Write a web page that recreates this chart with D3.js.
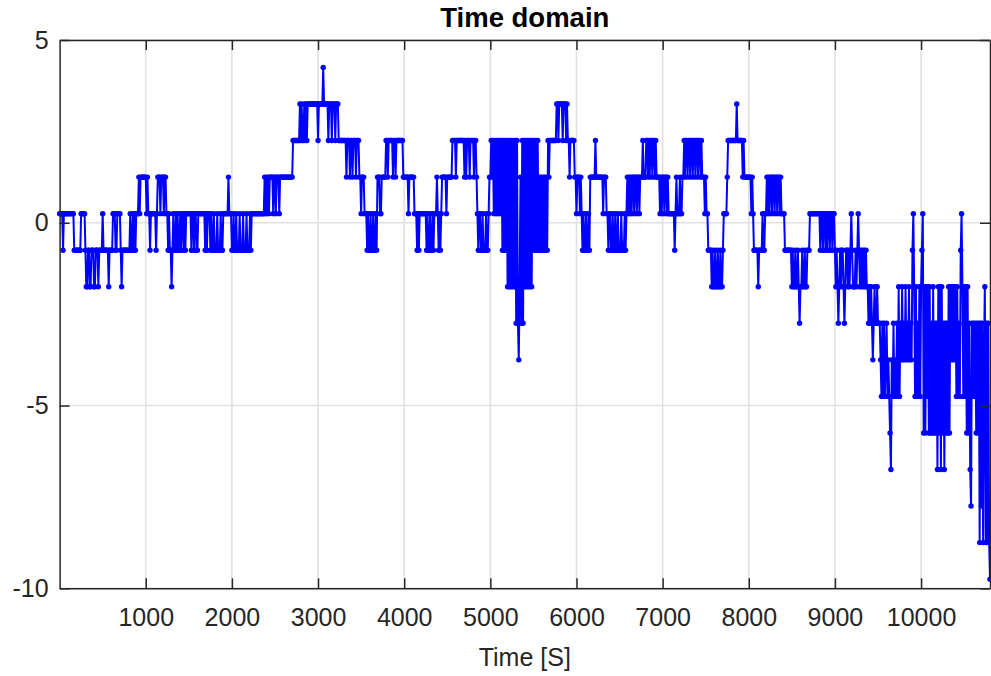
<!DOCTYPE html>
<html>
<head>
<meta charset="utf-8">
<script src="https://cdn.jsdelivr.net/npm/d3@7"></script>
<style>
  html, body { margin: 0; padding: 0; background: #fff; }
  svg { display: block; }
</style>
</head>
<body>
<svg id="chart" width="991" height="676"></svg>
<script>
// Quantised signal, recorded as level changes: [time in s, level from that time on]
const stepsFirstHour = [
  [0,0.25],[40,-0.75],[50,0.25],[170,-0.75],[250,0.25],[300,-0.75],[310,-1.75],[330,-0.75],[350,-1.75],[370,-0.75],
  [400,-1.75],[420,-0.75],[450,-1.75],[460,-0.75],[500,0.25],[510,-0.75],[570,-1.75],[580,-0.75],[620,0.25],[650,-0.75],
  [670,0.25],[710,-0.75],[720,-1.75],[730,-0.75],[820,0.25],[830,-0.75],[850,0.25],[860,-0.75],[870,0.25],[880,-0.75],
  [890,0.25],[920,1.25],[930,0.25],[940,1.25],[1010,0.25],[1020,1.25],[1030,0.25],[1050,-0.75],[1060,0.25],[1120,-0.75],
  [1130,0.25],[1140,1.25],[1170,0.25],[1180,1.25],[1210,0.25],[1220,1.25],[1240,0.25],[1260,-0.75],[1270,0.25],[1280,-0.75],
  [1300,-1.75],[1310,-0.75],[1320,0.25],[1330,-0.75],[1350,0.25],[1360,-0.75],[1370,0.25],[1380,-0.75],[1400,0.25],[1410,-0.75],
  [1420,0.25],[1440,-0.75],[1450,0.25],[1460,-0.75],[1470,0.25],[1530,-0.75],[1540,0.25],[1560,-0.75],[1570,0.25],[1590,-0.75],
  [1610,0.25],[1690,-0.75],[1700,0.25],[1710,-0.75],[1720,0.25],[1750,-0.75],[1760,0.25],[1770,-0.75],[1790,0.25],[1800,-0.75],
  [1830,0.25],[1840,-0.75],[1870,0.25],[1880,-0.75],[1900,0.25],[1960,1.25],[1970,0.25],[2000,-0.75],[2020,0.25],[2030,-0.75],
  [2050,0.25],[2060,-0.75],[2090,0.25],[2100,-0.75],[2130,0.25],[2140,-0.75],[2170,0.25],[2180,-0.75],[2210,0.25],[2220,-0.75],
  [2230,0.25],[2380,1.25],[2390,0.25],[2400,1.25],[2410,0.25],[2420,1.25],[2430,0.25],[2440,1.25],[2480,0.25],[2490,1.25],
  [2510,0.25],[2520,1.25],[2550,0.25],[2560,1.25],[2710,2.25],[2790,3.25],[2800,2.25],[2810,3.25],[2820,2.25],[2840,3.25],
  [2850,2.25],[2860,3.25],[2870,2.25],[2880,3.25],[3000,2.25],[3010,3.25],[3060,4.25],[3070,3.25],[3120,2.25],[3130,3.25],
  [3160,2.25],[3170,3.25],[3200,2.25],[3210,3.25],[3240,2.25],[3330,1.25],[3340,2.25],[3370,1.25],[3380,2.25],[3400,1.25],
  [3410,2.25],[3440,1.25],[3450,2.25],[3480,1.25],[3500,0.25],[3510,1.25],[3540,0.25],[3570,-0.75],[3580,0.25],[3590,-0.75]
];
const stepsSecondHour = [
  [3610,0.25],[3620,-0.75],[3640,0.25],[3650,-0.75],[3670,0.25],[3680,-0.75],[3690,1.25],[3720,0.25],[3740,1.25],[3790,2.25],
  [3810,1.25],[3820,2.25],[3870,1.25],[3880,2.25],[3900,1.25],[3910,2.25],[3990,1.25],[4050,0.25],[4060,1.25],[4120,0.25],
  [4150,-0.75],[4160,0.25],[4170,-0.75],[4180,0.25],[4260,-0.75],[4270,0.25],[4280,-0.75],[4300,0.25],[4310,-0.75],[4330,0.25],
  [4340,-0.75],[4350,0.25],[4380,1.25],[4390,0.25],[4400,-0.75],[4410,0.25],[4420,-0.75],[4430,0.25],[4440,1.25],[4490,0.25],
  [4500,1.25],[4560,2.25],[4600,1.25],[4610,2.25],[4700,1.25],[4710,2.25],[4720,1.25],[4730,2.25],[4760,1.25],[4770,2.25],
  [4810,1.25],[4820,2.25],[4840,1.25],[4850,0.25],[4860,-0.75],[4870,0.25],[4890,-0.75],[4910,0.25],[4920,-0.75],[4950,0.25],
  [4960,-0.75],[4980,0.25],[4990,1.25],[5010,2.25],[5020,1.25],
  [5030,2.25],[5040,0.25],[5050,2.25],[5060,0.25],[5070,2.25],[5080,0.25],[5090,2.25],[5100,0.25],[5110,2.25],[5120,0.25],
  [5130,2.25],[5140,-0.75],[5150,2.25],[5160,-0.75],[5170,2.25],[5180,-0.75],[5190,2.25],[5200,-1.75],[5210,2.25],[5220,-1.75],
  [5230,2.25],[5240,-1.75],[5250,2.25],[5260,-1.75],[5270,2.25],[5280,-1.75],[5290,2.25],[5300,-2.75],[5310,2.25],[5320,-2.75],
  [5330,-3.75],[5340,-1.75],[5350,1.25],[5360,-2.75],[5370,2.25],[5380,-2.75],[5390,2.25],[5400,-1.75],[5410,2.25],[5420,-1.75],
  [5430,2.25],[5440,-1.75],[5450,2.25],[5460,-1.75],[5470,2.25],[5480,-1.75],[5490,2.25],[5500,-0.75],[5510,2.25],[5520,-0.75],
  [5530,2.25],[5540,-0.75],[5550,2.25],[5560,-0.75],[5570,1.25],[5580,-0.75],[5590,1.25],[5600,-0.75],[5610,1.25],[5620,-0.75],
  [5630,1.25],[5640,-0.75],[5650,1.25],[5660,-0.75],[5670,2.25],
  [5680,1.25],[5690,2.25],[5770,3.25],[5790,2.25],[5800,3.25],[5840,2.25],[5850,3.25],[5880,2.25],[5890,3.25],[5900,2.25],
  [5920,1.25],[5930,2.25],[5980,1.25],[6000,0.25],[6010,1.25],[6040,0.25],[6050,1.25],[6060,0.25],[6070,-0.75],[6080,0.25],
  [6090,-0.75],[6110,0.25],[6120,-0.75],[6140,0.25],[6150,-0.75],[6160,1.25],[6220,2.25],[6230,1.25],[6310,0.25],[6320,1.25],
  [6350,0.25],[6370,-0.75],[6380,0.25],[6400,-0.75],[6420,0.25],[6430,-0.75],[6450,0.25],[6460,-0.75],[6480,0.25],[6490,-0.75],
  [6520,0.25],[6530,-0.75],[6560,0.25],[6570,-0.75],[6580,0.25],[6590,1.25],[6600,0.25],[6610,1.25],[6620,0.25],[6630,1.25],
  [6640,0.25],[6650,1.25],[6670,0.25],[6680,1.25],[6700,0.25],[6710,1.25],[6730,0.25],[6740,1.25],[6770,2.25],[6780,1.25],
  [6810,2.25],[6830,1.25],[6840,2.25],[6850,1.25],[6860,2.25],[6880,1.25],[6890,2.25],[6910,1.25],[6920,2.25],[6930,1.25],
  [6970,0.25],[6980,1.25],[6990,0.25],[7000,1.25],[7020,0.25],[7030,1.25],[7050,0.25],[7060,1.25],[7070,0.25],[7140,-0.75],
  [7150,0.25],[7160,1.25],[7170,0.25]
];
const stepsThirdHour = [
  [7200,1.25],[7210,0.25],[7230,1.25],[7250,2.25],[7260,1.25],[7270,2.25],[7290,1.25],[7300,2.25],[7320,1.25],[7330,2.25],
  [7350,1.25],[7360,2.25],[7380,1.25],[7390,2.25],[7410,1.25],[7420,2.25],[7440,1.25],[7450,2.25],[7460,1.25],[7490,0.25],
  [7500,1.25],[7510,0.25],[7530,-0.75],[7570,-1.75],[7580,-0.75],[7590,-1.75],[7610,-0.75],[7620,-1.75],[7640,-0.75],[7650,-1.75],
  [7670,-0.75],[7680,-1.75],[7700,-0.75],[7710,0.25],[7750,1.25],[7760,2.25],[7860,3.25],[7870,2.25],[7930,1.25],[7940,2.25],
  [7950,1.25],[8030,0.25],[8040,1.25],[8050,0.25],[8060,-0.75],[8110,-1.75],[8120,-0.75],[8160,0.25],[8170,-0.75],[8190,0.25],
  [8210,1.25],[8220,0.25],[8230,1.25],[8240,0.25],[8250,1.25],[8270,0.25],[8280,1.25],[8300,0.25],[8310,1.25],[8330,0.25],
  [8340,1.25],[8360,0.25],[8370,1.25],[8380,0.25],[8420,-0.75],[8500,-1.75],[8510,-0.75],[8520,-1.75],[8540,-0.75],[8550,-1.75],
  [8570,-0.75],[8580,-1.75],[8590,-2.75],[8600,-1.75],[8620,-0.75],[8630,-1.75],[8650,-0.75],[8660,-1.75],[8680,-0.75],[8710,0.25],
  [8830,-0.75],[8840,0.25],[8860,-0.75],[8870,0.25],[8890,-0.75],[8900,0.25],[8910,-0.75],[8920,0.25],[8940,-0.75],[8950,0.25],
  [8970,-0.75],[8980,0.25],[9000,-0.75],[9010,-1.75],[9020,-0.75],[9030,-1.75],[9040,-2.75],[9050,-1.75],[9060,-0.75],[9070,-1.75],
  [9080,-0.75],[9100,-1.75],[9110,-2.75],[9120,-1.75],[9130,-0.75],[9150,-1.75],[9160,-0.75],[9170,-1.75],[9180,-0.75],[9190,0.25],
  [9200,-0.75],[9210,-1.75],[9240,-0.75],[9250,-1.75],[9260,-0.75],[9270,0.25],[9280,-0.75],[9290,-1.75],[9300,-0.75],[9310,-1.75],
  [9320,-0.75],[9330,-1.75],[9340,-0.75],[9350,-1.75],[9360,-0.75],[9370,-1.75],[9390,-2.75],[9400,-1.75],[9410,-2.75],[9420,-1.75],
  [9430,-2.75],[9440,-3.75],[9450,-2.75],[9460,-1.75],[9470,-2.75],[9490,-1.75],[9500,-2.75],[9530,-3.75],[9540,-4.75],[9550,-2.75],
  [9560,-4.75],[9570,-2.75],[9580,-4.75],[9590,-3.75],[9600,-2.75],[9610,-4.75],[9620,-3.75],[9630,-4.75],[9640,-5.75],[9650,-6.75],
  [9660,-3.75],[9670,-4.75],[9680,-2.75],[9690,-4.75],[9700,-3.75],[9710,-4.75],[9720,-2.75],[9730,-4.75],[9740,-1.75],[9750,-4.75],
  [9760,-2.75],[9770,-3.75],[9780,-1.75],[9790,-3.75],[9800,-2.75],[9810,-3.75],[9820,-1.75],[9830,-3.75],[9840,-2.75],[9850,-3.75],
  [9860,-1.75],[9870,-3.75],[9880,-2.75],[9890,-3.75],[9900,-0.75],[9910,0.25],[9920,-1.75],[9930,-4.75],[9940,-1.75],[9950,-4.75],
  [9960,-2.75],[9970,-4.75],[9980,-1.75],[9990,-4.75],[10000,-1.75],[10010,-0.75],[10020,0.25],[10030,-5.75],[10040,-1.75],[10050,-5.75],
  [10060,-1.75],[10070,-4.75],[10080,-1.75],[10090,-5.75],[10100,-1.75],[10110,-5.75],[10120,-2.75],[10130,-5.75],[10140,-1.75],[10150,-5.75],
  [10160,-2.75],[10170,-5.75],[10180,-2.75],[10190,-6.75],[10200,-1.75],[10210,-5.75],[10220,-1.75],[10230,-6.75],[10240,-1.75],[10250,-5.75],
  [10260,-2.75],[10270,-6.75],[10280,-2.75],[10290,-5.75],[10300,-2.75],[10310,-5.75],[10320,-1.75],[10330,-5.75],[10340,-1.75],[10350,-3.75],
  [10360,-1.75],[10370,-3.75],[10380,-1.75],[10390,-3.75],[10400,-1.75],[10410,-4.75],[10420,-1.75],[10430,-4.75],[10440,-2.75],[10450,-4.75],
  [10460,-0.75],[10470,0.25],[10480,-1.75],[10490,-4.75],[10500,-1.75],[10510,-4.75],[10520,-1.75],[10530,-5.75],[10540,-1.75],[10550,-5.75],
  [10560,-2.75],[10570,-6.75],[10580,-7.75],[10590,-2.75],[10600,-4.75],[10610,-2.75],[10620,-4.75],[10630,-2.75],[10640,-5.75],[10650,-2.75],
  [10660,-5.75],[10670,-2.75],[10680,-8.75],[10690,-2.75],[10700,-7.75],[10710,-2.75],[10720,-8.75],[10730,-3.75],[10740,-1.75],[10750,-8.75],
  [10760,-2.75],[10770,-8.75],[10780,-2.75],[10790,-8.75],[10800,-9.75]
];

const sampleInterval = 10;          // seconds between samples
const timeRange = [0, 10800];
const valueRange = [-10, 5];
const xTicks = [1000, 2000, 3000, 4000, 5000, 6000, 7000, 8000, 9000, 10000];
const yTicks = [-10, -5, 0, 5];
const titleText = "Time domain";
const xLabelText = "Time [S]";

// Expand the level changes into the sampled series
const steps = stepsFirstHour.concat(stepsSecondHour, stepsThirdHour);
const stepTimes = steps.map(d => d[0]);
const samples = d3.range(timeRange[0], timeRange[1] + 1, sampleInterval).map(t => {
  const i = d3.bisectRight(stepTimes, t) - 1;
  return { t, v: steps[i][1] };
});

const svg = d3.select("#chart");
const plot = { left: 59.6, right: 990, top: 40, bottom: 588.3 };

const x = d3.scaleLinear().domain(timeRange).range([plot.left, plot.right]);
const y = d3.scaleLinear().domain(valueRange).range([plot.bottom, plot.top]);

const axisColor = "#262626";
const gridColor = "#e1e1e1";
const fontFamily = '"Liberation Sans", Arial, Helvetica, sans-serif';

// Grid
const grid = svg.append("g");
grid.selectAll(".gx").data(xTicks).join("line")
  .attr("x1", d => x(d)).attr("x2", d => x(d))
  .attr("y1", plot.top).attr("y2", plot.bottom)
  .attr("stroke", gridColor).attr("stroke-width", 1.6);
grid.selectAll(".gy").data(yTicks).join("line")
  .attr("x1", plot.left).attr("x2", plot.right)
  .attr("y1", d => y(d)).attr("y2", d => y(d))
  .attr("stroke", gridColor).attr("stroke-width", 1.6);

// Signal
svg.append("clipPath").attr("id", "plotClip")
  .append("rect").attr("x", plot.left - 4).attr("y", plot.top - 4)
  .attr("width", plot.right - plot.left + 8).attr("height", plot.bottom - plot.top + 8);

const series = svg.append("g").attr("clip-path", "url(#plotClip)");
const line = d3.line().x(d => x(d.t)).y(d => y(d.v));
series.append("path").datum(samples)
  .attr("d", line).attr("fill", "none")
  .attr("stroke", "#0000ff").attr("stroke-width", 2)
  .attr("stroke-linejoin", "round");
series.selectAll("circle").data(samples).join("circle")
  .attr("cx", d => x(d.t)).attr("cy", d => y(d.v))
  .attr("r", 2.7).attr("fill", "#0000ff");

// Axes (box with inward ticks on all four sides)
function styleAxis(g) {
  g.selectAll(".domain").attr("stroke", axisColor).attr("stroke-width", 1.5);
  g.selectAll(".tick line").attr("stroke", axisColor).attr("stroke-width", 1.5);
  g.selectAll(".tick text").attr("fill", axisColor)
    .style("font-family", fontFamily).style("font-size", "25px");
}

const fmt = d => String(d);

svg.append("g").attr("transform", `translate(0,${plot.bottom})`)
  .call(d3.axisBottom(x).tickValues(xTicks).tickFormat(fmt)
    .tickSizeInner(-10).tickSizeOuter(0).tickPadding(20))
  .call(styleAxis);
svg.append("g").attr("transform", `translate(0,${plot.top})`)
  .call(d3.axisTop(x).tickValues(xTicks).tickFormat(() => "")
    .tickSizeInner(-10).tickSizeOuter(0))
  .call(styleAxis);
svg.append("g").attr("transform", `translate(${plot.left},0)`)
  .call(d3.axisLeft(y).tickValues(yTicks).tickFormat(fmt)
    .tickSizeInner(-10).tickSizeOuter(0).tickPadding(11))
  .call(styleAxis);
svg.append("g").attr("transform", `translate(${plot.right},0)`)
  .call(d3.axisRight(y).tickValues(yTicks).tickFormat(() => "")
    .tickSizeInner(-10).tickSizeOuter(0))
  .call(styleAxis);

// Title and axis label
svg.append("text")
  .attr("x", (plot.left + plot.right) / 2).attr("y", 27)
  .attr("text-anchor", "middle")
  .style("font-family", fontFamily).style("font-size", "27.5px").style("font-weight", "bold")
  .attr("fill", "#000").text(titleText);

svg.append("text")
  .attr("x", (plot.left + plot.right) / 2).attr("y", 666)
  .attr("text-anchor", "middle")
  .style("font-family", fontFamily).style("font-size", "25px")
  .attr("fill", axisColor).text(xLabelText);
</script>
</body>
</html>
